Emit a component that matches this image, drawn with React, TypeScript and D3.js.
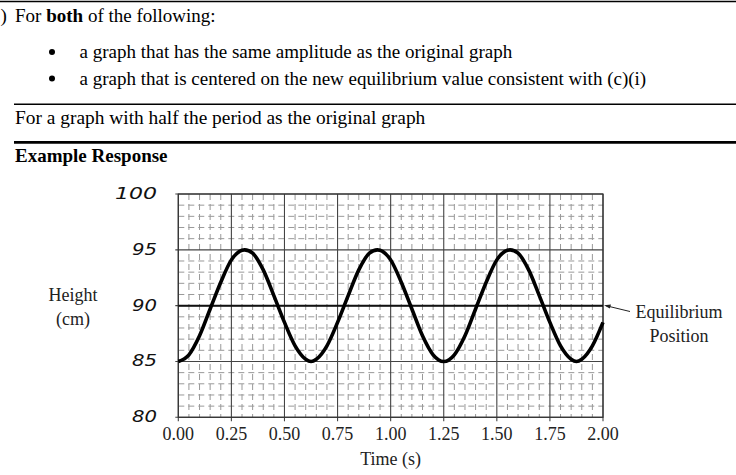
import React from "react";
import * as d3 from "d3";

// ---- data ----
const timeValues = [
  0, 0.05, 0.1, 0.15, 0.2, 0.25, 0.3125, 0.35, 0.4, 0.45, 0.5, 0.55, 0.6, 0.625,
  0.65, 0.7, 0.75, 0.8, 0.85, 0.9, 0.9375, 1.0, 1.05, 1.1, 1.15, 1.2, 1.25,
  1.3, 1.35, 1.4, 1.45, 1.5, 1.5625, 1.6, 1.65, 1.7, 1.75, 1.8, 1.85, 1.875,
  1.9, 1.95, 2.0,
];
const heightValues = [
  85.0, 85.6, 87.3, 89.7, 92.1, 94.1, 95.0, 94.7, 93.2, 90.9, 88.5, 86.4, 85.2, 85.0,
  85.2, 86.4, 88.5, 90.9, 93.2, 94.7, 95.0, 94.1, 92.1, 89.7, 87.3, 85.6, 85.0,
  85.6, 87.3, 89.7, 92.1, 94.1, 95.0, 94.7, 93.2, 90.9, 88.5, 86.4, 85.2, 85.0,
  85.2, 86.4, 88.5,
];
const xTicks = [0, 0.25, 0.5, 0.75, 1.0, 1.25, 1.5, 1.75, 2.0];
const xTickLabels = ["0.00", "0.25", "0.50", "0.75", "1.00", "1.25", "1.50", "1.75", "2.00"];
const yTicks = [80, 85, 90, 95, 100];
const yTickLabels = ["80", "85", "90", "95", "100"];
const equilibrium = 90;

const W = 736;
const H = 475;
const serif = "'Liberation Serif', 'Times New Roman', serif";

export default function App() {
  const x = d3.scaleLinear().domain([0, 2]).range([178.3, 603]);
  const y = d3.scaleLinear().domain([80, 100]).range([417.3, 194]);

  const minorX = d3.range(0, 2.0001, 0.05).filter((v) => Math.abs(v / 0.25 - Math.round(v / 0.25)) > 1e-6);
  const minorY = d3.range(80, 100.001, 1).filter((v) => v % 5 !== 0);

  const pts = timeValues.map((t, i) => [t, heightValues[i]] as [number, number]);
  const line = d3
    .line<[number, number]>()
    .x((d) => x(d[0]))
    .y((d) => y(d[1]))
    .curve(d3.curveMonotoneX);

  const x0 = x(0), x1 = x(2), y0 = y(80), y1 = y(100);

  return (
    <svg
      width={W}
      height={H}
      style={{ position: "absolute", left: 0, top: 0, background: "#fff" }}
      fontFamily={serif}
    >
      {/* header */}
      <line x1={0} x2={W} y1={1.5} y2={1.5} stroke="#000" strokeWidth={1.3} />
      <text x={0.5} y={22} fontSize={19} fill="#000">)</text>
      <text x={15} y={22} fontSize={19} fill="#000">
        {"For "}
        <tspan fontWeight="bold">both</tspan>
        {" of the following:"}
      </text>
      <circle cx={52} cy={52} r={3} fill="#000" />
      <text x={79.5} y={58} fontSize={19}>a graph that has the same amplitude as the original graph</text>
      <circle cx={52} cy={78.5} r={3} fill="#000" />
      <text x={79.5} y={84.5} fontSize={19}>a graph that is centered on the new equilibrium value consistent with (c)(i)</text>
      <line x1={14} x2={W} y1={104.3} y2={104.3} stroke="#000" strokeWidth={1.4} />
      <text x={15} y={123.5} fontSize={19.4}>For a graph with half the period as the original graph</text>
      <line x1={14} x2={W} y1={142.3} y2={142.3} stroke="#000" strokeWidth={2.8} />
      <text x={15} y={161.5} fontSize={19} fontWeight="bold">Example Response</text>

      {/* minor grid */}
      {minorX.map((v) => (
        <line key={"mx" + v} x1={x(v)} x2={x(v)} y1={y1} y2={y0} stroke="#999" strokeWidth={1} strokeDasharray="6 4" />
      ))}
      {minorY.map((v) => (
        <line key={"my" + v} x1={x0} x2={x1} y1={y(v)} y2={y(v)} stroke="#999" strokeWidth={1} strokeDasharray="6 4" />
      ))}
      {/* major grid */}
      {xTicks.map((v) => (
        <line key={"Mx" + v} x1={x(v)} x2={x(v)} y1={y1} y2={y0 + 4} stroke="#444" strokeWidth={1.1} />
      ))}
      {yTicks.map((v) => (
        <line key={"My" + v} x1={x0 - 3} x2={x1} y1={y(v)} y2={y(v)} stroke="#444" strokeWidth={1.1} />
      ))}
      <rect x={x0} y={y1} width={x1 - x0} height={y0 - y1} fill="none" stroke="#333" strokeWidth={1.2} />
      {/* equilibrium line */}
      <line x1={x0} x2={x1} y1={y(equilibrium)} y2={y(equilibrium)} stroke="#111" strokeWidth={2} />
      {/* curve */}
      <path d={line(pts) || ""} fill="none" stroke="#000" strokeWidth={3.6} strokeLinejoin="round" />

      {/* y tick labels */}
      {yTicks.map((v, i) => (
        <text
          key={"yl" + v}
          x={157}
          y={y(v) + 5}
          textAnchor="end"
          fontSize={15}
          fontStyle="italic"
          fontFamily="'DejaVu Sans', sans-serif"
          fontWeight={200}
          textLength={yTickLabels[i].length === 3 ? 42 : 25}
          lengthAdjust="spacingAndGlyphs"
          fill="#111"
        >
          {yTickLabels[i]}
        </text>
      ))}
      {/* x tick labels */}
      {xTicks.map((v, i) => (
        <text key={"xl" + v} x={x(v)} y={440} textAnchor="middle" fontSize={18} fill="#222">
          {xTickLabels[i]}
        </text>
      ))}
      <text x={(x0 + x1) / 2} y={465} textAnchor="middle" fontSize={18} fill="#222">Time (s)</text>
      <text x={73} y={301} textAnchor="middle" fontSize={18} fill="#222">Height</text>
      <text x={73} y={325} textAnchor="middle" fontSize={18} fill="#222">(cm)</text>

      {/* equilibrium annotation */}
      <line x1={606} y1={305.7} x2={630} y2={311.5} stroke="#222" strokeWidth={1} />
      <path d="M604,305.2 L611,304.6 L609.8,308.6 Z" fill="#222" />
      <text x={679} y={318} textAnchor="middle" fontSize={18} fill="#222">Equilibrium</text>
      <text x={679} y={342} textAnchor="middle" fontSize={18} fill="#222">Position</text>
    </svg>
  );
}
